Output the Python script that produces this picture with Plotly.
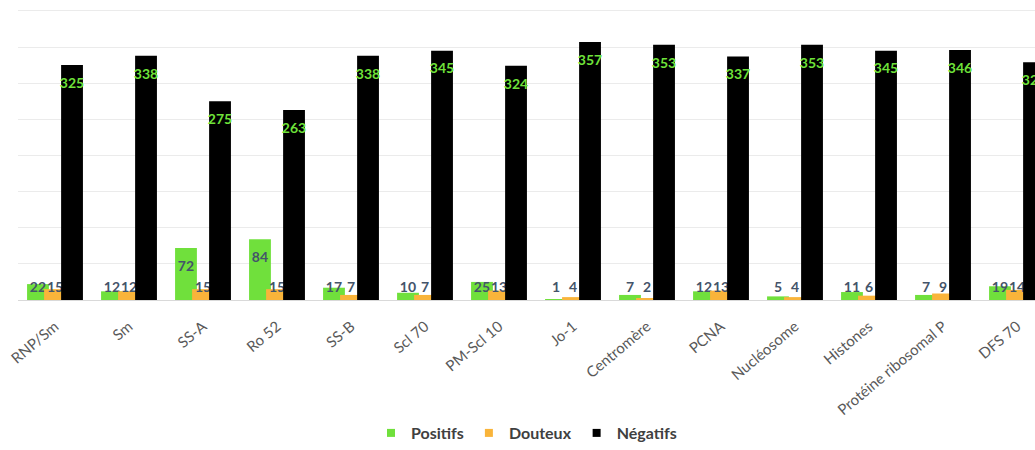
import plotly.graph_objects as go

# Résultats par antigène (nombre de sérums)
categories = ["RNP/Sm", "Sm", "SS-A", "Ro 52", "SS-B", "Scl 70", "PM-Scl 10", "Jo-1",
              "Centromère", "PCNA", "Nucléosome", "Histones", "Protéine ribosomal P", "DFS 70"]
positifs = [22, 12, 72, 84, 17, 10, 25, 1, 7, 12, 5, 11, 7, 19]
douteux = [15, 12, 15, 15, 7, 7, 13, 4, 2, 13, 4, 6, 9, 14]
negatifs = [325, 338, 275, 263, 338, 345, 324, 357, 353, 337, 353, 345, 346, 329]

series = [
    ("Positifs", positifs, "#70E03C", "#44546A"),
    ("Douteux", douteux, "#F9B43A", "#44546A"),
    ("Négatifs", negatifs, "#000000", "#6FE23A"),
]

FONT = "Lato, 'Open Sans', sans-serif"
BAR_W = 0.295     # bar width in category units
STEP = 0.23       # shift between overlapping bars of a group
LABEL_DROP = 24   # label centre sits this far below the bar end (inside end)
LABEL_MIN = 19    # lowest label centre for short bars
LABEL_H = 26      # height of the transparent band that carries each label
Y_MAX = 404

fig = go.Figure()
idx = list(range(len(categories)))

for k, (name, vals, color, txtcolor) in enumerate(series):
    shift = (k - 1) * STEP
    xs = [i + shift for i in idx]
    fig.add_trace(go.Bar(
        x=xs, y=vals, width=BAR_W, name=name, showlegend=False,
        marker=dict(color=color, line=dict(width=0)),
        hoverinfo="y+name",
    ))
    # value labels, drawn right after their own series so that later series overlap them
    centres = [max(v - LABEL_DROP, LABEL_MIN) for v in vals]
    fig.add_trace(go.Bar(
        x=xs, y=[LABEL_H] * len(vals), base=[c - LABEL_H / 2 for c in centres],
        width=BAR_W, showlegend=False, hoverinfo="skip",
        marker=dict(color="rgba(0,0,0,0)", line=dict(width=0)),
        text=[str(v) for v in vals], textposition="inside",
        insidetextanchor="middle", textangle=0, constraintext="none",
        textfont=dict(family=FONT, size=14, color=txtcolor, weight="bold"),
    ))

# legend keys with small square swatches
for name, _, color, _ in series:
    fig.add_trace(go.Scatter(
        x=[None], y=[None], mode="markers", name=name,
        marker=dict(symbol="square", size=8, color=color),
    ))

plot_h = 292 * Y_MAX / 400
top = 303 - plot_h

fig.update_layout(
    width=1035, height=450,
    margin=dict(l=18, r=0, t=top, b=147),
    barmode="overlay",
    paper_bgcolor="white", plot_bgcolor="white",
    font=dict(family=FONT, color="#595959"),
    showlegend=True,
    legend=dict(
        orientation="h", x=0.5, xanchor="center", y=-(438 - 303) / plot_h, yanchor="middle",
        font=dict(size=16, color="#404040", weight="bold"),
        itemwidth=30, traceorder="normal",
    ),
    xaxis=dict(
        range=[-0.5, -0.5 + (1035 - 18) / 74],
        tickmode="array", tickvals=idx, ticktext=categories,
        tickangle=-40, tickfont=dict(size=15, color="#595959"),
        ticklabelstandoff=11,
        showgrid=False, zeroline=False,
        showline=True, linecolor="#D9D9D9", linewidth=1, ticks="",
    ),
    yaxis=dict(
        range=[0, Y_MAX], tickmode="array", tickvals=[50, 100, 150, 200, 250, 300, 350, 400],
        showgrid=True, gridcolor="#EBEBEB", gridwidth=1,
        zeroline=False, showticklabels=False, ticks="",
    ),
)

fig.write_html("out.html")
